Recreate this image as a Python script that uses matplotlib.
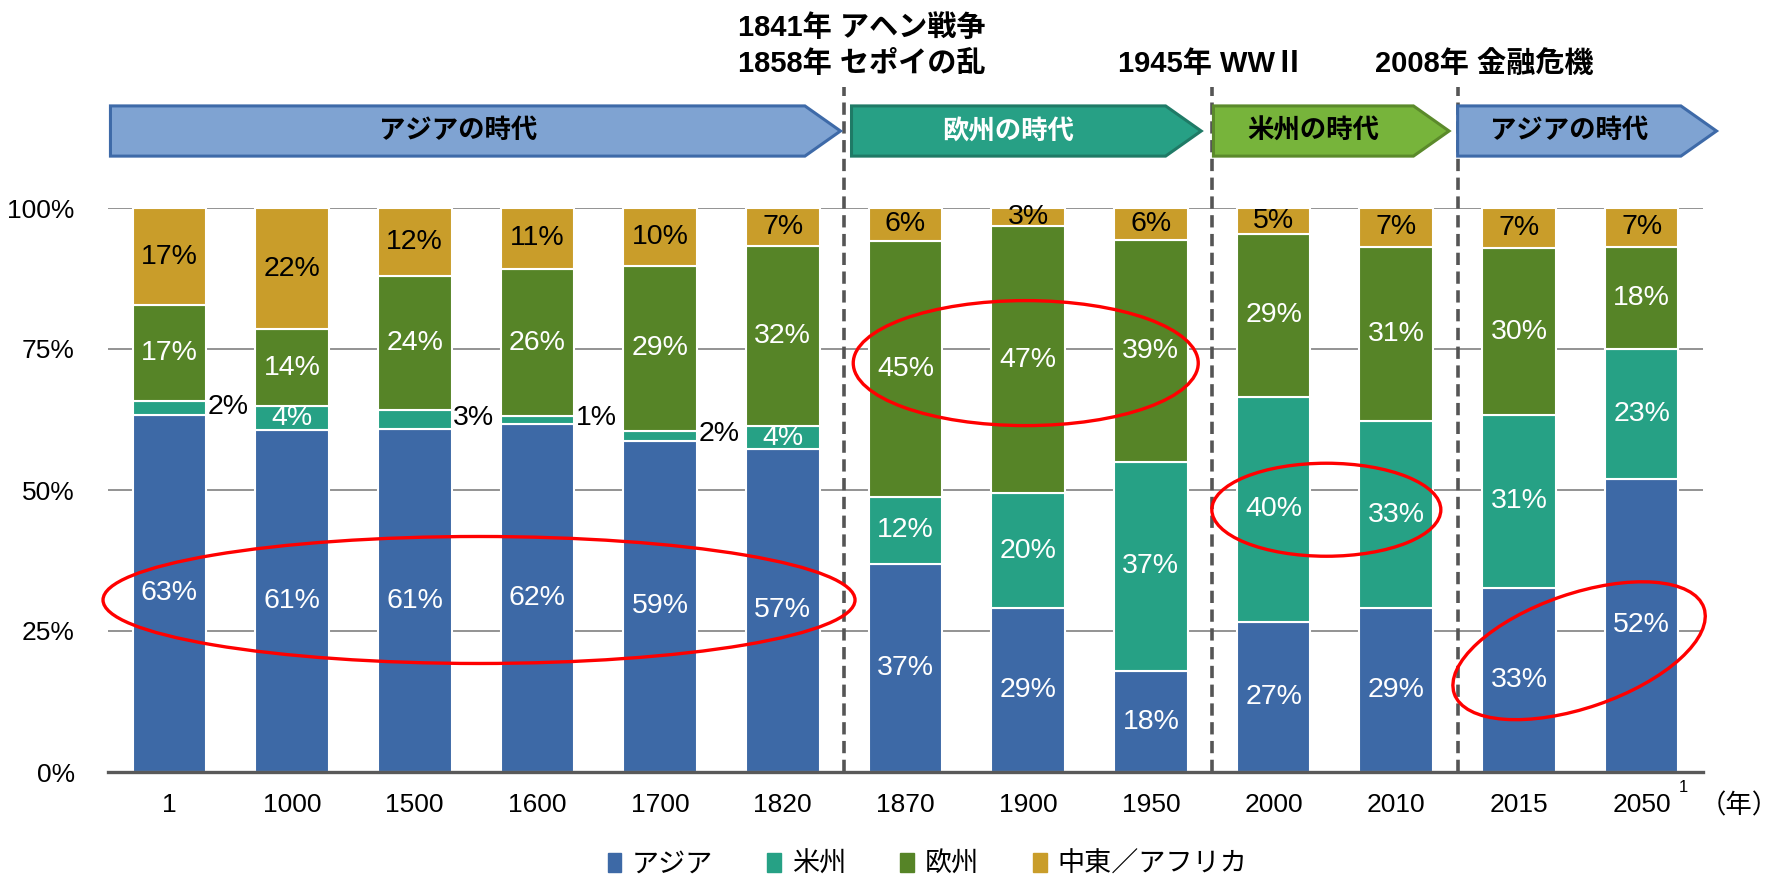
"""地域別GDPシェアの推移 (積み上げ棒)"""
import matplotlib
matplotlib.use('Agg')
import matplotlib.pyplot as plt
from matplotlib.patches import Polygon, Ellipse, Patch
from matplotlib.transforms import ScaledTranslation
import numpy as np

plt.rcParams['font.family'] = ['Liberation Sans', 'Noto Sans CJK JP']

years = ['1', '1000', '1500', '1600', '1700', '1820', '1870',
         '1900', '1950', '2000', '2010', '2015', '2050']
asia = [63.3, 60.6, 60.8, 61.7, 58.7, 57.3, 36.9, 29.0, 17.9, 26.6, 29.0, 32.7, 52.0]
americas = [2.4, 4.3, 3.3, 1.4, 1.8, 4.0, 11.9, 20.4, 37.1, 39.9, 33.3, 30.6, 23.0]
europe = [17.1, 13.6, 23.9, 26.1, 29.3, 32.0, 45.4, 47.4, 39.4, 28.9, 30.8, 29.6, 18.1]
mea = [17.2, 21.5, 12.0, 10.8, 10.2, 6.7, 5.8, 3.2, 5.6, 4.6, 6.9, 7.1, 6.9]
series_names = ['アジア', '米州', '欧州', '中東／アフリカ']

eras = ['アジアの時代', '欧州の時代', '米州の時代', 'アジアの時代']
events = ['1841年 アヘン戦争', '1858年 セポイの乱', '1945年 WWⅡ', '2008年 金融危機']

COLORS = ['#3D69A6', '#26A185', '#568427', '#C99D2A']
TEXTC = ['white', 'white', 'white', 'black']

fig = plt.figure(figsize=(17.8, 8.76), dpi=100)
ax = fig.add_axes([108 / 1780, 104 / 876, 1595 / 1780, 564 / 876])

x = np.arange(len(years))
series = [asia, americas, europe, mea]
bottom = np.zeros(len(years))
for k, vals in enumerate(series):
    vals = np.array(vals)
    ax.bar(x, vals, 0.6, bottom=bottom, color=COLORS[k], edgecolor='white',
           lw=1.5, zorder=2)
    for i, v in enumerate(vals):
        yc = bottom[i] + v / 2
        lab = f'{v:.0f}%'
        if k == 1 and v < 3.5:
            ax.text(i + 0.31, yc + 0.3, lab, ha='left', va='center', fontsize=20.5,
                    color='black', zorder=4)
        else:
            ax.text(i, yc, lab, ha='center', va='center', fontsize=20.5,
                    color=TEXTC[k], zorder=4)
    bottom += vals

ax.set_xlim(-0.5, len(years) - 0.5)
ax.set_ylim(0, 100)
ax.set_xticks(x)
ax.set_xticklabels(years)
ax.set_yticks([0, 25, 50, 75, 100])
ax.set_yticklabels(['0%', '25%', '50%', '75%', '100%'])
ax.tick_params(axis='both', length=0, labelsize=19)
ax.tick_params(axis='y', pad=24)
ax.tick_params(axis='x', pad=15)
ax.yaxis.grid(True, color='#808080', lw=1.2)
ax.set_axisbelow(True)
for s in ['top', 'right', 'left']:
    ax.spines[s].set_visible(False)
ax.spines['bottom'].set_color('#595959')
ax.spines['bottom'].set_linewidth(2.4)
ax.spines['bottom'].set_zorder(3)

# 時代区分の破線
for xd in [5.5, 8.5, 10.5]:
    ax.plot([xd, xd], [0, 121.5], ls=(0, (3.4, 1.8)), color='#555555', lw=2.6,
            clip_on=False, zorder=3)

# 時代の矢印
arrow_spans = [(-0.48, 5.47), (5.56, 8.41), (8.51, 10.43), (10.50, 12.61)]
arrow_fc = ['#7FA3D2', '#27A085', '#77B43B', '#7FA3D2']
arrow_ec = ['#3E6AA8', '#1F7A66', '#5B8A2B', '#3E6AA8']
arrow_tc = ['black', 'white', 'black', 'black']
y0, y1, tip = 109.2, 118.1, 0.29
for (xa, xb), fc, ec, tc, name in zip(arrow_spans, arrow_fc, arrow_ec, arrow_tc, eras):
    pts = [(xa, y0), (xb - tip, y0), (xb, (y0 + y1) / 2), (xb - tip, y1), (xa, y1)]
    ax.add_patch(Polygon(pts, closed=True, fc=fc, ec=ec, lw=2.2, clip_on=False, zorder=4))
    ax.text((xa + xb - tip) / 2, (y0 + y1) / 2, name, ha='center', va='center',
            fontsize=19, fontweight='bold', color=tc, zorder=5)

# 出来事
ev_pos = [(4.634, 131.9), (4.634, 125.6), (7.73, 125.6), (9.83, 125.6)]
for (ex, ey), txt in zip(ev_pos, events):
    ax.text(ex, ey, txt, ha='left', va='center', fontsize=21, fontweight='bold',
            color='black', clip_on=False)

# 赤い楕円
ellipses = [(2.524, 30.5, 7.52, 1.27, 0), (6.98, 72.5, 3.45, 1.25, 0),
            (9.43, 46.5, 2.29, 0.93, 0), (11.49, 21.5, 2.64, 1.14, 19)]
for cx, cy, w, h, a in ellipses:
    e = Ellipse((0, 0), w, h, angle=a, fill=False, ec='#FF0000', lw=2.4,
                transform=fig.dpi_scale_trans + ScaledTranslation(cx, cy, ax.transData),
                clip_on=False, zorder=6)
    ax.add_artist(e)

ax.text(12.34, -2.8, '1', ha='center', va='center', fontsize=12, clip_on=False)
ax.text(12.47, -6.0, '（年）', ha='left', va='center', fontsize=19, clip_on=False)

handles = [Patch(color=c) for c in COLORS]
fig.legend(handles, series_names, loc='center', bbox_to_anchor=(0.521, 0.013), ncol=4,
           frameon=False, fontsize=19.5, handlelength=0.5, handleheight=0.7,
           handletextpad=0.4, columnspacing=2.0, borderpad=0)

plt.savefig('out.png', dpi=100, facecolor='white')
